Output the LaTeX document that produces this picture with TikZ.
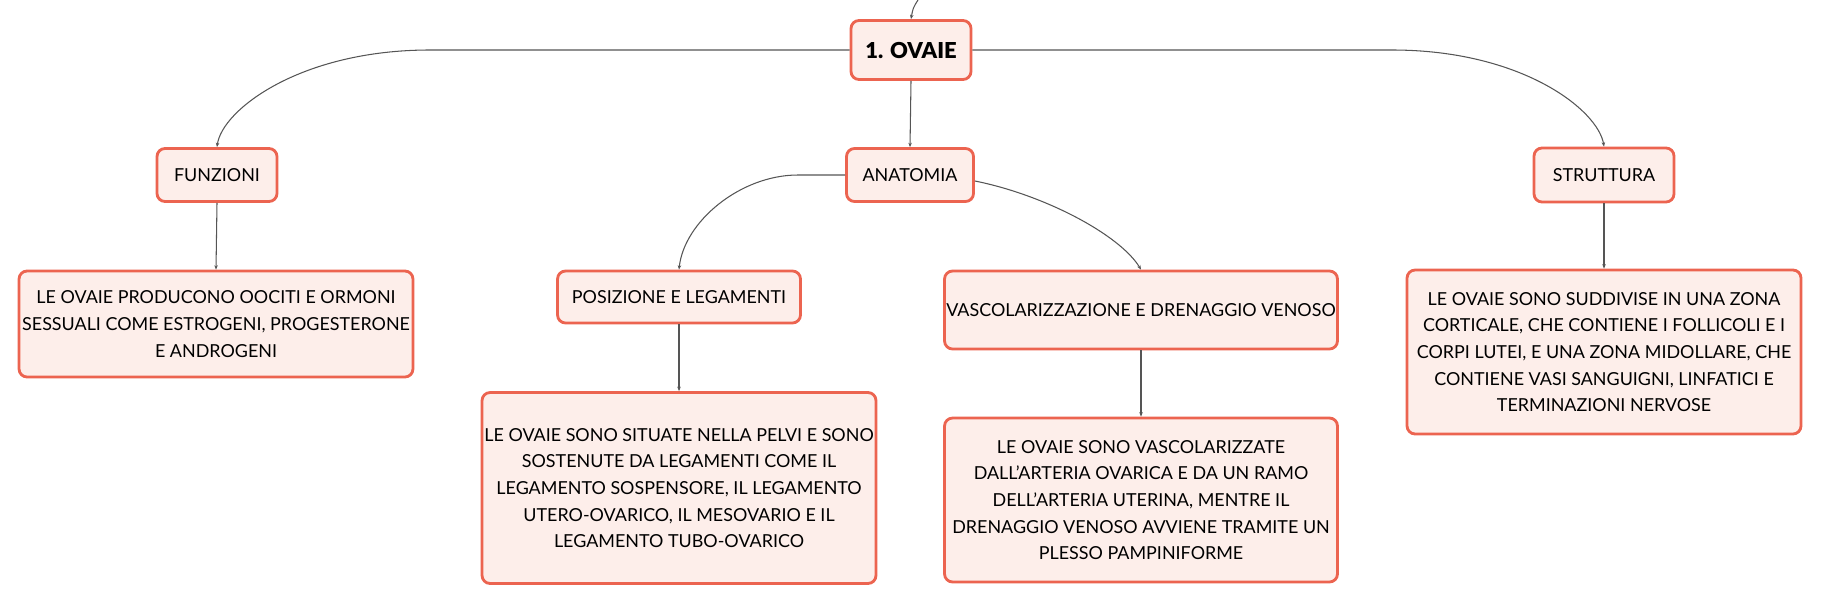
\documentclass[tikz,border=0pt]{standalone}
\usepackage{fontspec}
\setmainfont{Lato}
\newfontfamily\ovblack{Lato Black}
\usetikzlibrary{arrows.meta}
\definecolor{ovred}{HTML}{EC6450}
\definecolor{ovfill}{HTML}{FDEEEA}
\definecolor{ovline}{HTML}{555555}
\tikzset{
  ovbox/.style={draw=ovred, fill=ovfill, line width=1.6pt, rounded corners=0.16cm,
    inner sep=0pt, align=center, font=\fontsize{10.2}{15.2}\selectfont},
  link/.style={draw=ovline, line width=0.6pt, -{Stealth[length=2.5pt,width=2pt]}}
}
\begin{document}
\begin{tikzpicture}[x=0.02cm,y=-0.02cm]
\useasboundingbox (0,0) rectangle (1821,605);
\coordinate (top) at (918,0);
\node[ovbox, minimum width=2.4cm, minimum height=1.18cm, font=\fontsize{12.5}{15}\selectfont\ovblack] (ovaie) at (911,50) {1. OVAIE};
\node[ovbox, minimum width=2.54cm, minimum height=1.06cm] (anatomia) at (910,175) {ANATOMIA};
\node[ovbox, minimum width=2.4cm, minimum height=1.06cm] (funzioni) at (217,175) {FUNZIONI};
\node[ovbox, minimum width=2.8cm, minimum height=1.08cm] (struttura) at (1604,175) {STRUTTURA};
\node[ovbox, minimum width=4.86cm, minimum height=1.04cm] (posizione) at (679,297) {POSIZIONE E LEGAMENTI};
\node[ovbox, minimum width=7.86cm, minimum height=1.56cm] (vascol) at (1141,310) {VASCOLARIZZAZIONE E DRENAGGIO VENOSO};

\node[ovbox, minimum width=7.88cm, minimum height=2.12cm] (txtfunz) at (216,324)
  {LE OVAIE PRODUCONO OOCITI E ORMONI\\ SESSUALI COME ESTROGENI, PROGESTERONE\\ E ANDROGENI};
\node[ovbox, minimum width=7.88cm, minimum height=3.82cm] (txtpos) at (679,488)
  {LE OVAIE SONO SITUATE NELLA PELVI E SONO\\ SOSTENUTE DA LEGAMENTI COME IL\\ LEGAMENTO SOSPENSORE, IL LEGAMENTO\\ UTERO-OVARICO, IL MESOVARIO E IL\\ LEGAMENTO TUBO-OVARICO};
\node[ovbox, minimum width=7.86cm, minimum height=3.28cm] (txtvasc) at (1141,500)
  {LE OVAIE SONO VASCOLARIZZATE\\ DALL'ARTERIA OVARICA E DA UN RAMO\\ DELL'ARTERIA UTERINA, MENTRE IL\\ DRENAGGIO VENOSO AVVIENE TRAMITE UN\\ PLESSO PAMPINIFORME};
\node[ovbox, minimum width=7.88cm, minimum height=3.28cm] (txtstrut) at (1604,352)
  {LE OVAIE SONO SUDDIVISE IN UNA ZONA\\ CORTICALE, CHE CONTIENE I FOLLICOLI E I\\ CORPI LUTEI, E UNA ZONA MIDOLLARE, CHE\\ CONTIENE VASI SANGUIGNI, LINFATICI E\\ TERMINAZIONI NERVOSE};

% connectors
\draw[link] (top) .. controls (913,8) .. (ovaie.north);
\draw[link] (ovaie.west) -- (430,50) .. controls (300,50) and (222,110) .. (funzioni.north);
\draw[link] (ovaie.east) -- (1392,50) .. controls (1522,50) and (1598,110) .. (struttura.north);
\draw[link] (ovaie.south) -- (anatomia.north);
\draw[link] (anatomia.west) -- (798,175) .. controls (740,175) and (684,222) .. (posizione.north);
\draw[link] (anatomia.east) ++(0,6) .. controls (1045,195) and (1120,235) .. (vascol.north);
\draw[link] (funzioni.south) -- (txtfunz.north);
\draw[link] (posizione.south) -- (txtpos.north);
\draw[link] (vascol.south) -- (txtvasc.north);
\draw[link] (struttura.south) -- (txtstrut.north);
\end{tikzpicture}
\end{document}
